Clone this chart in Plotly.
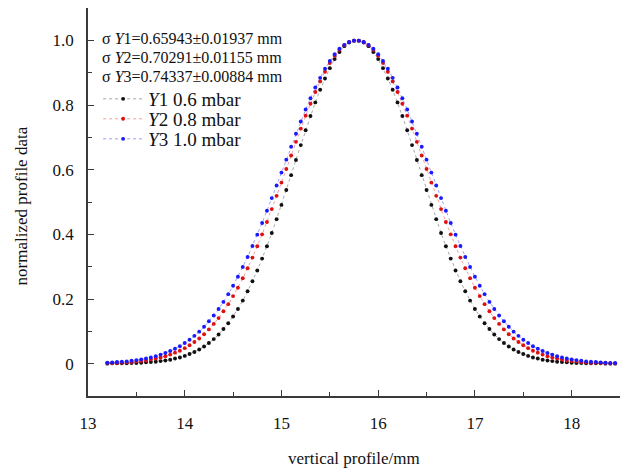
import plotly.graph_objects as go

# vertical profile positions (mm)
x_mm = [13.20, 13.25, 13.30, 13.35, 13.40, 13.45, 13.50, 13.55, 13.60, 13.65,
        13.70, 13.75, 13.80, 13.85, 13.90, 13.95, 14.00, 14.05, 14.10, 14.15,
        14.20, 14.25, 14.30, 14.35, 14.40, 14.45, 14.50, 14.55, 14.60, 14.65,
        14.70, 14.75, 14.80, 14.85, 14.90, 14.95, 15.00, 15.05, 15.10, 15.15,
        15.20, 15.25, 15.30, 15.35, 15.40, 15.45, 15.50, 15.55, 15.60, 15.65,
        15.70, 15.75, 15.80, 15.85, 15.90, 15.95, 16.00, 16.05, 16.10, 16.15,
        16.20, 16.25, 16.30, 16.35, 16.40, 16.45, 16.50, 16.55, 16.60, 16.65,
        16.70, 16.75, 16.80, 16.85, 16.90, 16.95, 17.00, 17.05, 17.10, 17.15,
        17.20, 17.25, 17.30, 17.35, 17.40, 17.45, 17.50, 17.55, 17.60, 17.65,
        17.70, 17.75, 17.80, 17.85, 17.90, 17.95, 18.00, 18.05, 18.10, 18.15,
        18.20, 18.25, 18.30, 18.35, 18.40, 18.45]

# Y1 0.6 mbar
y1 = [0.000, 0.001, 0.001, 0.001, 0.001, 0.002, 0.002, 0.003, 0.004, 0.005,
      0.006, 0.008, 0.010, 0.012, 0.016, 0.019, 0.024, 0.030, 0.036, 0.044,
      0.053, 0.064, 0.076, 0.090, 0.107, 0.125, 0.146, 0.169, 0.195, 0.224,
      0.255, 0.288, 0.325, 0.363, 0.404, 0.447, 0.491, 0.537, 0.583, 0.630,
      0.676, 0.722, 0.766, 0.808, 0.847, 0.882, 0.914, 0.942, 0.964, 0.982,
      0.993, 0.999,
      0.999, 0.993, 0.982, 0.964, 0.942, 0.914, 0.882, 0.847, 0.808, 0.766,
      0.722, 0.676, 0.630, 0.583, 0.537, 0.491, 0.447, 0.404, 0.363, 0.325,
      0.288, 0.255, 0.224, 0.195, 0.169, 0.146, 0.125, 0.107, 0.090, 0.076,
      0.064, 0.053, 0.044, 0.036, 0.030, 0.024, 0.019, 0.016, 0.012, 0.010,
      0.008, 0.006, 0.005, 0.004, 0.003, 0.002, 0.002, 0.001, 0.001, 0.001,
      0.001, 0.000, 0.000, 0.000]

# Y2 0.8 mbar
y2 = [0.002, 0.002, 0.003, 0.003, 0.004, 0.005, 0.007, 0.008, 0.010, 0.013,
      0.016, 0.019, 0.023, 0.028, 0.034, 0.040, 0.048, 0.057, 0.067, 0.078,
      0.091, 0.106, 0.123, 0.141, 0.162, 0.184, 0.209, 0.235, 0.264, 0.295,
      0.328, 0.363, 0.400, 0.438, 0.478, 0.519, 0.560, 0.602, 0.644, 0.686,
      0.727, 0.767, 0.804, 0.840, 0.873, 0.903, 0.930, 0.952, 0.971, 0.985,
      0.995, 0.999,
      0.999, 0.995, 0.985, 0.971, 0.952, 0.930, 0.903, 0.873, 0.840, 0.804,
      0.767, 0.727, 0.686, 0.644, 0.602, 0.560, 0.519, 0.478, 0.438, 0.400,
      0.363, 0.328, 0.295, 0.264, 0.235, 0.209, 0.184, 0.162, 0.141, 0.123,
      0.106, 0.091, 0.078, 0.067, 0.057, 0.048, 0.040, 0.034, 0.028, 0.023,
      0.019, 0.016, 0.013, 0.010, 0.008, 0.007, 0.005, 0.004, 0.003, 0.003,
      0.002, 0.002, 0.001, 0.001]

# Y3 1.0 mbar
y3 = [0.003, 0.004, 0.005, 0.006, 0.007, 0.009, 0.011, 0.013, 0.016, 0.019,
      0.023, 0.028, 0.033, 0.039, 0.046, 0.054, 0.064, 0.074, 0.086, 0.099,
      0.114, 0.131, 0.149, 0.169, 0.191, 0.215, 0.241, 0.269, 0.299, 0.330,
      0.364, 0.399, 0.435, 0.473, 0.512, 0.551, 0.591, 0.631, 0.671, 0.711,
      0.749, 0.786, 0.821, 0.854, 0.884, 0.912, 0.936, 0.957, 0.974, 0.986,
      0.995, 0.999,
      0.999, 0.995, 0.986, 0.974, 0.957, 0.936, 0.912, 0.884, 0.854, 0.821,
      0.786, 0.749, 0.711, 0.671, 0.631, 0.591, 0.551, 0.512, 0.473, 0.435,
      0.399, 0.364, 0.330, 0.299, 0.269, 0.241, 0.215, 0.191, 0.169, 0.149,
      0.131, 0.114, 0.099, 0.086, 0.074, 0.064, 0.054, 0.046, 0.039, 0.033,
      0.028, 0.023, 0.019, 0.016, 0.013, 0.011, 0.009, 0.007, 0.006, 0.005,
      0.004, 0.003, 0.002, 0.002]

series_names = ["<i>Y</i>1 0.6 mbar", "<i>Y</i>2 0.8 mbar", "<i>Y</i>3 1.0 mbar"]
sigma_texts = ["σ <i>Y</i>1=0.65943±0.01937 mm",
               "σ <i>Y</i>2=0.70291±0.01155 mm",
               "σ <i>Y</i>3=0.74337±0.00884 mm"]
x_tick_vals = [13, 14, 15, 16, 17, 18]
y_tick_vals = [0, 0.2, 0.4, 0.6, 0.8, 1.0]
y_tick_text = ["0", "0.2", "0.4", "0.6", "0.8", "1.0"]
x_title = "vertical profile/mm"
y_title = "normalized profile data"

marker_colors = ["#111111", "#e01010", "#1a1aff"]
line_colors = ["rgba(60,60,60,0.45)", "rgba(230,40,40,0.45)", "rgba(40,40,255,0.45)"]
legend_ids = ["legend", "legend2", "legend3"]
legend_y = [0.7655, 0.714, 0.6624]

FONT = "Liberation Serif, Times New Roman, serif"

fig = go.Figure()
for ys, name, mc, lc, lg in zip([y1, y2, y3], series_names, marker_colors,
                                line_colors, legend_ids):
    fig.add_trace(go.Scatter(
        x=x_mm, y=ys, name=name, mode="lines+markers", legend=lg,
        line=dict(color=lc, width=1, dash="dot"),
        marker=dict(color=mc, size=3.9, line=dict(width=0)),
    ))

for i, t in enumerate(sigma_texts):
    fig.add_annotation(
        text=t, xref="paper", yref="paper", x=0.022, y=0.921 - i * 0.049,
        xanchor="left", yanchor="middle", showarrow=False,
        font=dict(family=FONT, size=16, color="#111111"),
    )

# axis titles
fig.add_annotation(
    text=x_title, xref="paper", yref="paper", x=0.5, y=-0.16,
    xanchor="center", yanchor="middle", showarrow=False,
    font=dict(family=FONT, size=17, color="#111111"),
)
fig.add_annotation(
    text=y_title, xref="paper", yref="paper", x=-0.125, y=0.49,
    xanchor="center", yanchor="middle", showarrow=False, textangle=-90,
    font=dict(family=FONT, size=17, color="#111111"),
)

axis_common = dict(
    showline=True, linecolor="#3a3a3a", linewidth=1.5, mirror=False,
    ticks="inside", tickcolor="#3a3a3a", tickwidth=1.2, ticklen=6,
    showgrid=False, zeroline=False, automargin=False,
    tickfont=dict(family=FONT, size=17, color="#111111"),
)

legend_common = dict(
    x=0.019, xanchor="left", yanchor="middle",
    bgcolor="rgba(0,0,0,0)", borderwidth=0,
    font=dict(family=FONT, size=19, color="#111111"),
    itemwidth=40, tracegroupgap=0,
)

fig.update_layout(
    width=621, height=472,
    margin=dict(l=88, r=1, t=8, b=76),
    paper_bgcolor="white", plot_bgcolor="white",
    font=dict(family=FONT, color="#111111"),
    xaxis=dict(
        range=[13, 18.5], tickvals=x_tick_vals,
        minor=dict(ticks="inside", dtick=0.5, tick0=13, ticklen=4,
                   tickcolor="#3a3a3a", tickwidth=1.2),
        ticklabelstandoff=11,
        **axis_common,
    ),
    yaxis=dict(
        range=[-0.1, 1.1], tickvals=y_tick_vals, ticktext=y_tick_text,
        minor=dict(ticks="inside", dtick=0.1, tick0=0, ticklen=4,
                   tickcolor="#3a3a3a", tickwidth=1.2),
        ticklabelstandoff=9,
        **axis_common,
    ),
    legend=dict(y=legend_y[0], **legend_common),
    legend2=dict(y=legend_y[1], **legend_common),
    legend3=dict(y=legend_y[2], **legend_common),
    showlegend=True,
)

fig.write_html("out.html", config={"displayModeBar": False},
               post_script="document.body.style.margin='0';")
